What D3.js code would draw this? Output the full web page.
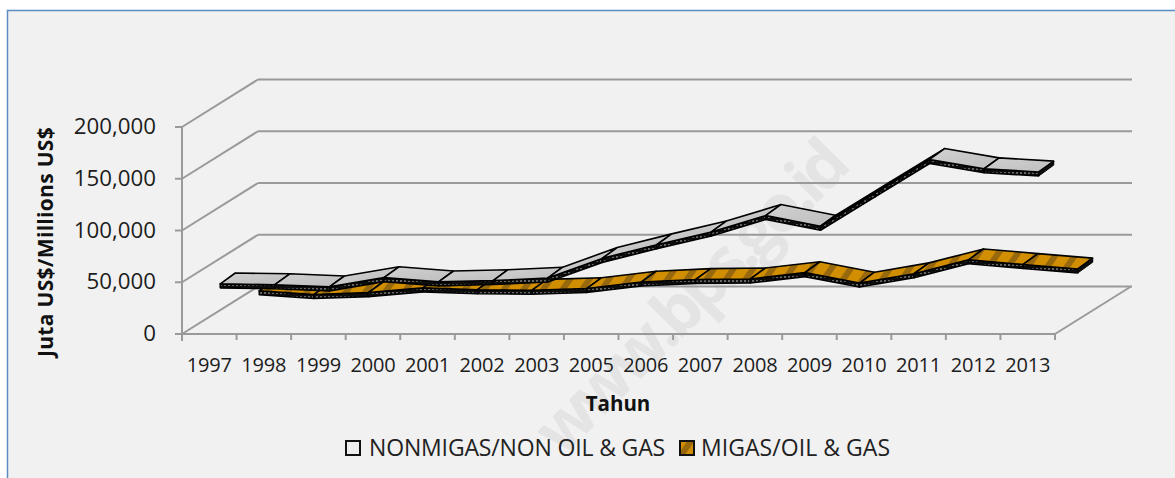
<!DOCTYPE html>
<html><head><meta charset="utf-8">
<script src="https://cdn.jsdelivr.net/npm/d3@7/dist/d3.min.js"></script>
<style>html,body{margin:0;padding:0;background:#fff}svg{display:block}</style>
</head><body><svg id="c" width="1175" height="478"></svg>
<script>
const years=["1997","1998","1999","2000","2001","2002","2003","2005","2006","2007","2008","2009","2010","2011","2012","2013"];
const nonmigas=[41800,41000,38900,47800,43700,45000,47400,66400,79600,92000,107900,97500,129700,162000,153000,149900];
const migas=[11600,7900,9800,14400,12600,12100,13700,20000,22500,23000,29100,19000,28000,41500,37000,32600];
const yTicks=[0,50000,100000,150000,200000];
const seriesNames=["NONMIGAS/NON OIL & GAS","MIGAS/OIL & GAS"];
const FONT="'Open Sans',sans-serif";
const svg=d3.select("#c");
const defs=svg.append("defs");
const orange=defs.append("pattern").attr("id","po").attr("patternUnits","userSpaceOnUse").attr("width",16).attr("height",16).attr("patternTransform","rotate(35)");
orange.append("rect").attr("width",16).attr("height",16).attr("fill","#d08e06");
orange.append("rect").attr("width",6).attr("height",16).attr("fill","#98680a");
const grey=defs.append("linearGradient").attr("id","pg").attr("x1",0).attr("y1",0).attr("x2",1).attr("y2",1);
grey.append("stop").attr("offset",0).attr("stop-color","#d2d2d2");
grey.append("stop").attr("offset",1).attr("stop-color","#bdbdbd");
const side=defs.append("pattern").attr("id","ps").attr("patternUnits","userSpaceOnUse").attr("width",4).attr("height",4);
side.append("rect").attr("width",4).attr("height",4).attr("fill","#111");
side.append("rect").attr("width",2).attr("height",2).attr("fill","#666");
const soft=defs.append("filter").attr("id","soft").attr("x","-5%").attr("y","-5%").attr("width","110%").attr("height","110%");
soft.append("feGaussianBlur").attr("stdDeviation",0.45);

svg.append("rect").attr("x",7.5).attr("y",10.5).attr("width",1175).attr("height",480).attr("fill","#f1f1f1").attr("stroke","#5b8cc4").attr("stroke-width",1.5);

// watermark
svg.append("text").attr("transform","translate(562,458) rotate(-45)").attr("font-family",FONT).attr("font-weight",700).attr("font-size",66).attr("fill","#e4e4e4").attr("textLength",412).text("www.bps.go.id");

// scales
const band=d3.scaleBand().domain(years).range([182,1055]);
const y=d3.scaleLinear().domain([0,200000]).range([334,127]);
const wall={dx:76,dy:-47.5};
const line=(x1,y1,x2,y2)=>svg.append("line").attr("x1",x1).attr("y1",y1).attr("x2",x2).attr("y2",y2).attr("stroke","#9a9a9a").attr("stroke-width",2);

// walls and gridlines
yTicks.forEach(t=>{
  const p=y(t);
  line(182,p,182+wall.dx,p+wall.dy);
  line(182+wall.dx,p+wall.dy,1055+wall.dx+1,p+wall.dy);
  line(175,p,182,p);
});
line(182,y(200000),182,y(0)+7);
line(182,y(0),1055,y(0));
line(1055,y(0),1055+wall.dx,y(0)+wall.dy);
[...years.map(d=>band(d)),1055].forEach(x=>line(x,334,x,340));

// tick labels
svg.append("g").selectAll("text").data(yTicks).join("text")
  .attr("x",156).attr("y",d=>y(d)+7).attr("text-anchor","end").attr("font-family",FONT).attr("font-size",22.3).attr("fill","#1c1c1c")
  .text(d3.format(","));
svg.append("g").selectAll("text").data(years).join("text")
  .attr("x",d=>band(d)+band.bandwidth()/2).attr("y",372).attr("text-anchor","middle").attr("font-family",FONT).attr("font-size",20).attr("letter-spacing",-0.2).attr("fill","#1c1c1c")
  .text(d=>d);
svg.append("text").attr("transform","translate(53,242) rotate(-90)").attr("text-anchor","middle").attr("font-family",FONT).attr("font-weight",700).attr("font-size",21).attr("letter-spacing",0.3).attr("fill","#111").text("Juta US$/Millions US$");
svg.append("text").attr("x",618).attr("y",411).attr("text-anchor","middle").attr("font-family",FONT).attr("font-weight",700).attr("font-size",20.5).attr("fill","#111").text("Tahun");

// ribbons
const ribbonDepth=15, thick=4;
const slope=wall.dy/wall.dx;
const ribbon=(vals,depth,fill)=>{
  const g=svg.append("g").attr("filter","url(#soft)");
  const px=i=>band(years[i])+band.bandwidth()/2+depth;
  const py=i=>y(vals[i])+depth*slope;
  const ddy=ribbonDepth*slope-1.5;
  d3.range(vals.length-1).forEach(i=>{
    const x0=px(i),x1=px(i+1),y0=py(i),y1=py(i+1);
    g.append("path").attr("d",`M${x0},${y0}L${x1},${y1}L${x1},${y1+thick}L${x0},${y0+thick}Z`)
      .attr("fill","url(#ps)").attr("stroke","#000").attr("stroke-width",1.6).attr("stroke-linejoin","round");
    g.append("path").attr("d",`M${x0},${y0}L${x1},${y1}L${x1+ribbonDepth},${y1+ddy}L${x0+ribbonDepth},${y0+ddy}Z`)
      .attr("fill",fill).attr("stroke","#000").attr("stroke-width",1.6).attr("stroke-linejoin","round");
    if(i===vals.length-2) g.append("path").attr("d",`M${x1},${y1}L${x1+ribbonDepth},${y1+ddy}L${x1+ribbonDepth},${y1+ddy+thick}L${x1},${y1+thick}Z`)
      .attr("fill","#111").attr("stroke","#000");
  });
};
ribbon(migas,50,"url(#po)");
ribbon(nonmigas,11,"url(#pg)");

// legend
const lg=svg.append("g");
lg.append("rect").attr("x",346).attr("y",441).attr("width",14).attr("height",14).attr("fill","#eee").attr("stroke","#111").attr("stroke-width",2);
lg.append("text").attr("x",369).attr("y",456).attr("font-family",FONT).attr("font-size",23).attr("letter-spacing",-0.15).attr("fill","#222").text(seriesNames[0]);
lg.append("rect").attr("x",680).attr("y",441).attr("width",14).attr("height",14).attr("fill","url(#po)").attr("stroke","#111").attr("stroke-width",2);
lg.append("text").attr("x",701).attr("y",456).attr("font-family",FONT).attr("font-size",23).attr("letter-spacing",0.05).attr("fill","#222").text(seriesNames[1]);
</script></body></html>
